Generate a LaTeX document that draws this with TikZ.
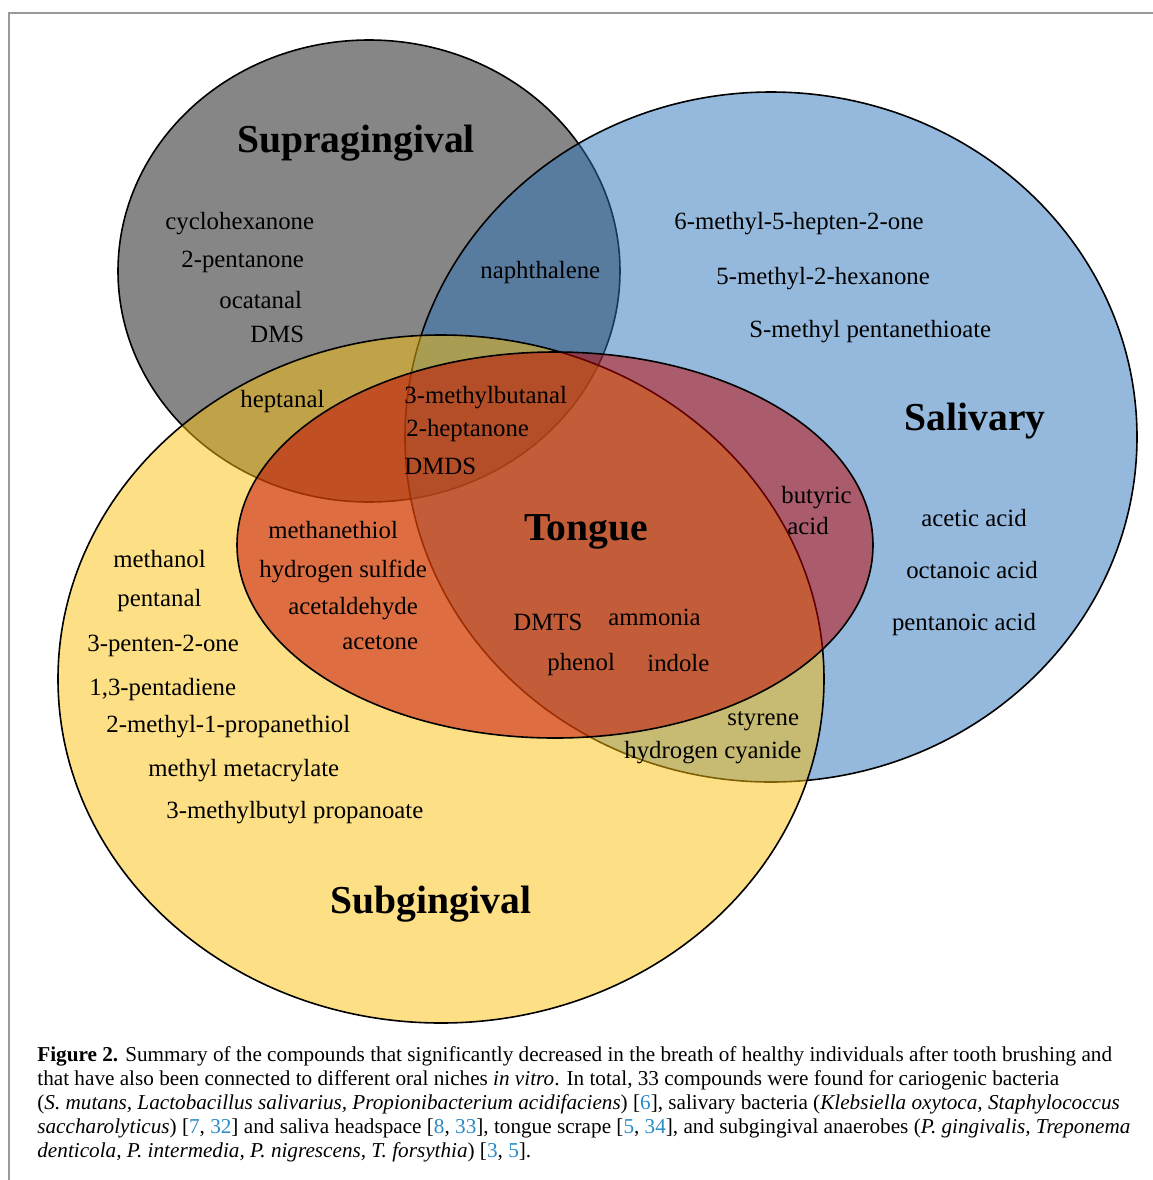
\documentclass[tikz,border=0pt]{standalone}
\usepackage{fontspec}
\setmainfont{Liberation Serif}
\definecolor{supragrey}{RGB}{134,134,134}
\definecolor{salivblue}{RGB}{43,115,185}
\definecolor{subgyellow}{RGB}{251,191,11}
\definecolor{tonguered}{RGB}{192,0,0}
\definecolor{reflink}{RGB}{42,139,198}
\newcommand{\refno}[1]{\textcolor{reflink}{#1}}

\begin{document}
\begin{tikzpicture}[x=0.5pt,y=-0.5pt,
    set/.style={draw=black,line width=0.8pt},
    cmpd/.style={font=\fontsize{12.4}{14}\selectfont,inner sep=0pt,anchor=west,yshift=-1.5pt},
    settitle/.style={font=\fontsize{19.8}{22}\selectfont\bfseries,inner sep=0pt,yshift=-2pt}]
  \useasboundingbox (0,0) rectangle (1153,1180);
  % page frame
  \draw[black!40,line width=0.8pt] (9,1180) -- (9,13) -- (1153,13);

  % the four niches
  \filldraw[set,fill=supragrey] (369,271) ellipse [x radius=125.5pt,y radius=115.5pt];
  \filldraw[set,fill=salivblue,fill opacity=0.5] (771,437) ellipse [x radius=183pt,y radius=172.5pt];
  \filldraw[set,fill=subgyellow,fill opacity=0.5] (441,679) ellipse [x radius=191.5pt,y radius=172pt];
  \filldraw[set,fill=tonguered,fill opacity=0.5] (555,545) ellipse [x radius=159pt,y radius=96.5pt];

  % titles
  \node[settitle] (supra) at (356,139) {Supragingival};
  \node[settitle] (saliv) at (975,417) {Salivary};
  \node[settitle] (tongue) at (586,528) {Tongue};
  \node[settitle] (subg) at (431,900) {Subgingival};

  % supragingival only
  \node[cmpd] (cyclohex) at (165,221) {cyclohexanone};
  \node[cmpd] (pentanone) at (181,259) {2-pentanone};
  \node[cmpd] (ocatanal) at (219,297) {ocatanal};
  \node[cmpd] (dms) at (250,331) {DMS};
  \node[cmpd] (naphth) at (480,270) {naphthalene};
  \node[cmpd] (heptanal) at (240,399) {heptanal};

  % salivary only
  \node[cmpd] (hepten) at (674,221) {6-methyl-5-hepten-2-one};
  \node[cmpd] (hexanone) at (716,276) {5-methyl-2-hexanone};
  \node[cmpd] (thioate) at (749,329) {S-methyl pentanethioate};
  \node[cmpd,anchor=center] (acetic) at (974,515) {acetic acid};
  \node[cmpd,anchor=center] (octanoic) at (972,567) {octanoic acid};
  \node[cmpd,anchor=center] (pentanoic) at (964,622) {pentanoic acid};

  % tongue overlaps
  \node[cmpd] (butanal) at (404,395) {3-methylbutanal};
  \node[cmpd] (heptanone) at (406,428) {2-heptanone};
  \node[cmpd] (dmds) at (404,463) {DMDS};
  \node[cmpd] (butyric) at (781,495) {butyric};
  \node[cmpd] (acid) at (787,523) {acid};
  \node[cmpd] (methanethiol) at (268,527) {methanethiol};
  \node[cmpd] (sulfide) at (259,568) {hydrogen sulfide};
  \node[cmpd] (acetald) at (288,606) {acetaldehyde};
  \node[cmpd] (acetone) at (342,640) {acetone};
  \node[cmpd] (dmts) at (513,619) {DMTS};
  \node[cmpd] (ammonia) at (608,614) {ammonia};
  \node[cmpd] (phenol) at (547,662) {phenol};
  \node[cmpd] (indole) at (647,660) {indole};
  \node[cmpd] (styrene) at (727,718) {styrene};
  \node[cmpd] (cyanide) at (624,750) {hydrogen cyanide};

  % subgingival only
  \node[cmpd] (methanol) at (113,556) {methanol};
  \node[cmpd] (pentanal) at (117,598) {pentanal};
  \node[cmpd] (pentenone) at (87,643) {3-penten-2-one};
  \node[cmpd] (pentadiene) at (89,687) {1,3-pentadiene};
  \node[cmpd] (propanethiol) at (106,724) {2-methyl-1-propanethiol};
  \node[cmpd] (metacryl) at (148,768) {methyl metacrylate};
  \node[cmpd] (propanoate) at (166,810) {3-methylbutyl propanoate};

  % caption
  \node[anchor=north west,inner sep=0pt,align=left,
        font=\fontsize{10.6}{12}\selectfont] (caption) at (37,1046)
    {\textbf{Figure 2.} Summary of the compounds that significantly decreased in the breath of healthy individuals after tooth brushing and\\
     that have also been connected to different oral niches \textit{in vitro}. In total, 33 compounds were found for cariogenic bacteria\\
     (\textit{S. mutans, Lactobacillus salivarius, Propionibacterium acidifaciens}) [\refno{6}], salivary bacteria (\textit{Klebsiella oxytoca, Staphylococcus}\\
     \textit{saccharolyticus}) [\refno{7}, \refno{32}] and saliva headspace [\refno{8}, \refno{33}], tongue scrape [\refno{5}, \refno{34}], and subgingival anaerobes (\textit{P. gingivalis, Treponema}\\
     \textit{denticola, P. intermedia, P. nigrescens, T. forsythia}) [\refno{3}, \refno{5}].};
\end{tikzpicture}
\end{document}
